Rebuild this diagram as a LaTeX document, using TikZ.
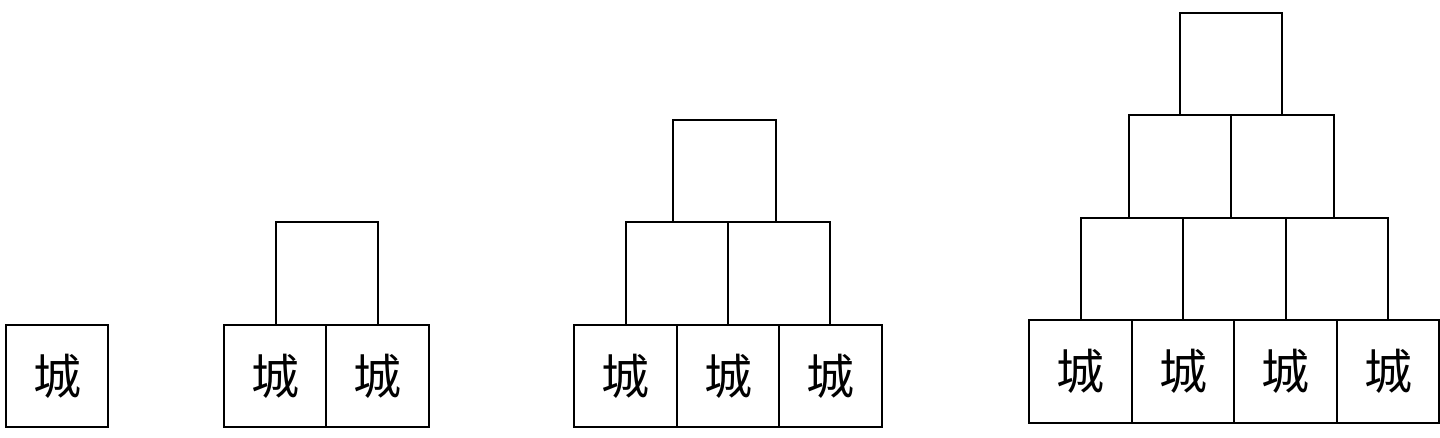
\documentclass[tikz,border=0pt]{standalone}
\usepackage{fontspec}
\newfontfamily\cjk{Noto Sans CJK SC}
\begin{document}
\begin{tikzpicture}[x=0.5pt,y=-0.5pt,
  cell/.style={draw=black,line width=1pt,minimum size=51.25pt,inner sep=0pt,outer sep=0pt,font=\cjk\fontsize{24pt}{24pt}\selectfont}]
\useasboundingbox (0,0) rectangle (1440,438);
% figure 1
\node[cell] (a1) at (57,376) {城};
% figure 2
\node[cell] (b1) at (275,376) {城};
\node[cell] (b2) at (377.5,376) {城};
\node[cell] (b3) at (327,273.5) {};
% figure 3
\node[cell] (c1) at (625.5,376) {城};
\node[cell] (c2) at (728,376) {城};
\node[cell] (c3) at (830.5,376) {城};
\node[cell] (c4) at (677,273.5) {};
\node[cell] (c5) at (779,273.5) {};
\node[cell] (c6) at (724.5,171) {};
% figure 4
\node[cell] (d1) at (1080.5,371.5) {城};
\node[cell] (d2) at (1183,371.5) {城};
\node[cell] (d3) at (1285.5,371.5) {城};
\node[cell] (d4) at (1388,371.5) {城};
\node[cell] (d5) at (1132,269) {};
\node[cell] (d6) at (1234.5,269) {};
\node[cell] (d7) at (1337,269) {};
\node[cell] (d8) at (1180,166.5) {};
\node[cell] (d9) at (1282.5,166.5) {};
\node[cell] (d10) at (1231,64) {};
\end{tikzpicture}
\end{document}
